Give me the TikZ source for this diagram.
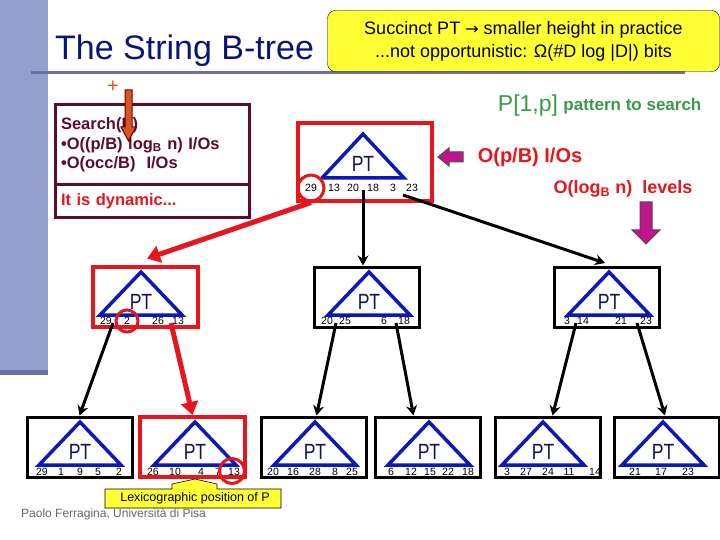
\documentclass[tikz,border=0pt]{standalone}
\usepackage{xcolor}
\usepackage{fontspec}
\setmainfont{Liberation Sans}
\newfontfamily\ptfont[FakeStretch=0.8]{Liberation Sans}
\newfontfamily\symfont{DejaVu Sans}
\usetikzlibrary{calc, arrows.meta, positioning}

\definecolor{sidebar}{HTML}{94A0CB}
\definecolor{rulegray}{HTML}{6B6E9E}
\definecolor{titlenavy}{HTML}{0A1478}
\definecolor{noteyellow}{HTML}{FFFF33}
\definecolor{maroon}{HTML}{5C0A30}
\definecolor{ptred}{HTML}{E8161C}
\definecolor{ptblue}{HTML}{0C18B8}
\definecolor{ptnavy}{HTML}{12125E}
\definecolor{magentab}{HTML}{C0158C}
\definecolor{pgreen}{HTML}{3A9A4A}
\definecolor{orangebar}{HTML}{D9541E}

% triangle of a node: apex x, apex y, base y
\newcommand{\pttri}[4]{%
  \draw[ptblue, line width=3.5pt, line join=miter] (#2-41,#4) -- (#2,#3) -- (#2+41,#4) -- cycle;
  \node[ptlab] (#1-pt) at (#2, {(#3+#4)/2+8}) {PT};}

\begin{document}
\begin{tikzpicture}[x=1pt, y=-1pt,
    box/.style={draw, line width=3pt, minimum width=105pt, minimum height=60pt, inner sep=0pt},
    num/.style={font=\fontsize{10.5}{10.5}\selectfont, inner sep=0pt},
    ptlab/.style={font=\ptfont\fontsize{22}{22}\selectfont, text=ptnavy, inner sep=0pt},
    ring/.style={circle, draw=ptred, line width=3pt, minimum size=22pt, inner sep=0pt},
    link/.style={line width=3pt, -{Stealth[length=10pt,width=11pt]}},
    hotlink/.style={line width=5pt, ptred, -{Triangle[length=13pt,width=17pt]}},
    bold/.style={font=\bfseries\fontsize{16.5}{19.5}\selectfont, inner sep=0pt}]
    \useasboundingbox (0,0) rectangle (720,540);

    % Sfondo e titolo
    \fill[sidebar] (0,0) rectangle (48,375);
    \fill[rulegray] (0,370) rectangle (48,375);
    \draw[rulegray, line width=3pt] (31,73) -- (685,73);
    \node[anchor=base west, text=titlenavy, font=\fontsize{34}{34}\selectfont, inner sep=0pt]
        (title) at (55,60) {The String B-tree};
    \node[draw, fill=noteyellow, rounded corners=8pt, minimum width=392pt, minimum height=61pt,
        align=center, font=\fontsize{18}{23}\selectfont] (note) at (523.5,41)
        {Succinct PT {\symfont\fontsize{16}{16}\selectfont →} smaller height in practice\\ ...not opportunistic: Ω(\#D log |D|) bits};

    % Riquadro di ricerca
    \node[draw=maroon, line width=3pt, minimum width=194pt, minimum height=80pt, text width=182pt,
        align=left, text=maroon, bold] (search) at (152,145)
        {Search(P)\\ •O((p/B) log\textsubscript{B} n) I/Os\\ •O(occ/B)\ \ I/Os};
    \node[draw=maroon, line width=3pt, minimum width=194pt, minimum height=33pt, text width=182pt,
        align=left, text=ptred, bold] (dyn) at (152,201.5) {It is dynamic...};
    \node[text=orangebar, font=\fontsize{20}{20}\selectfont, inner sep=0pt] (plus) at (113,87) {+};
    \draw[fill=orangebar, draw=black!60!red, line width=1pt]
        (125,90) -- (132,90) -- (132,127) -- (136,127) -- (128.5,141) -- (121,127) -- (125,127) -- cycle;

    % Pattern e costi
    \node[text=pgreen, font=\fontsize{23}{23}\selectfont, inner sep=0pt] (pat) at (528,106) {P[1,p]};
    \node[text=pgreen, bold, font=\bfseries\fontsize{17}{17}\selectfont, right=5pt of pat] (patlab) {pattern to search};
    \node[text=ptred, bold, font=\bfseries\fontsize{20}{20}\selectfont] (iocost) at (530,157) {O(p/B) I/Os};
    \node[text=ptred, bold, font=\bfseries\fontsize{18}{18}\selectfont] (levels) at (623,189)
        {O(log\textsubscript{B} n)\ \ levels};
    \draw[fill=magentab, draw=black!70, line width=1pt]
        (463,152) -- (449,152) -- (449,148) -- (438,157) -- (449,166) -- (449,162) -- (463,162) -- cycle;
    \draw[fill=magentab, draw=black!70, line width=1pt]
        (640,202) -- (652,202) -- (652,230) -- (660,230) -- (646,244) -- (632,230) -- (640,230) -- cycle;

    % Radice
    \node[box, draw=ptred, line width=4pt, minimum width=134pt, minimum height=78pt] (root) at (365,162) {};
    \pttri{root}{363}{134}{178}
    \foreach \v/\x in {29/311,13/334,20/353,18/373,3/393,23/412}
        \node[num] (root-\v) at (\x,188) {\v};
    \node[ring, minimum size=26pt] (ring0) at (root-29) {};

    % Secondo livello
    \node[box, draw=ptred, line width=4pt] (n1) at (145,296.5) {};
    \node[box] (n2) at (367,297) {};
    \node[box] (n3) at (607,297.5) {};
    \pttri{n1}{141}{272}{315}
    \pttri{n2}{369}{272}{315}
    \pttri{n3}{609}{272}{315}
    \foreach \v/\x in {29/106,2/127,26/158,13/178}
        \node[num] (n1-\v) at (\x,321) {\v};
    \foreach \v/\x in {20/327,25/345,6/384,18/404}
        \node[num] (n2-\v) at (\x,321) {\v};
    \foreach \v/\x in {3/567,14/583,21/621,23/646}
        \node[num] (n3-\v) at (\x,321) {\v};
    \node[ring] (ring1) at (127,321) {};

    % Foglie
    \node[box] (l1) at (79.5,447) {};
    \node[box, draw=ptred, line width=4pt] (l2) at (192.5,447) {};
    \node[box] (l3) at (313.5,447) {};
    \node[box] (l4) at (427.5,447) {};
    \node[box] (l5) at (547.5,447) {};
    \node[box] (l6) at (667,447) {};
    \pttri{l1}{80}{422}{465}
    \pttri{l2}{195}{422}{465}
    \pttri{l3}{315}{422}{465}
    \pttri{l4}{429}{422}{465}
    \pttri{l5}{543}{422}{465}
    \pttri{l6}{663}{422}{465}
    \foreach \v/\x in {29/42,1/61,9/80,5/98,2/119}
        \node[num] (l1-\v) at (\x,472) {\v};
    \foreach \v/\x in {26/153,10/175,4/201,7/218,13/234}
        \node[num] (l2-\v) at (\x,472) {\v};
    \foreach \v/\x in {20/273,16/293,28/315,8/335,25/352}
        \node[num] (l3-\v) at (\x,472) {\v};
    \foreach \v/\x in {6/391,12/411,15/430,22/448,18/468}
        \node[num] (l4-\v) at (\x,472) {\v};
    \foreach \v/\x in {3/507,27/526,24/548,11/569,14/595}
        \node[num] (l5-\v) at (\x,472) {\v};
    \foreach \v/\x in {21/635,17/661,23/688}
        \node[num] (l6-\v) at (\x,472) {\v};
    \node[ring, minimum size=25pt] (ring2) at (232,471) {};

    % Collegamenti
    \coordinate (r-a) at (363,190);
    \coordinate (r-b) at (403,195);
    \coordinate (a-a) at (113,323);
    \coordinate (a-b) at (171,323);
    \coordinate (b-a) at (336,323);
    \coordinate (b-b) at (396,323);
    \coordinate (c-a) at (576,323);
    \coordinate (c-b) at (637,323);
    \draw[hotlink] (ring0.south) -- ([xshift=2pt,yshift=6pt]n1.north);
    \draw[link] (r-a) -- ([xshift=-4pt]n2.north);
    \draw[link] (r-b) -- ([xshift=-2pt,yshift=3pt]n3.north);
    \draw[link] (a-a) -- (l1.north);
    \draw[hotlink] (a-b) -- (l2.north);
    \draw[link] (b-a) -- ([xshift=3pt]l3.north);
    \draw[link] (b-b) -- ([xshift=-14pt]l4.north);
    \draw[link] (c-a) -- ([xshift=5pt]l5.north);
    \draw[link] (c-b) -- ([xshift=-2pt]l6.north);

    % Nota in basso
    \draw[fill=noteyellow, draw=black, line width=0.6pt]
        (105,489) -- (172,489) -- (172,484) -- (195,479) -- (217,484) -- (217,489) -- (281,489)
        -- (281,508) -- (105,508) -- cycle;
    \node[font=\fontsize{12.5}{12.5}\selectfont, inner sep=0pt] (lexpos) at (195,498.5)
        {Lexicographic position of P};
    \node[anchor=west, text=black!60, font=\fontsize{12}{12}\selectfont, inner sep=0pt]
        (footer) at (21,514.5) {Paolo Ferragina, Università di Pisa};
\end{tikzpicture}
\end{document}
